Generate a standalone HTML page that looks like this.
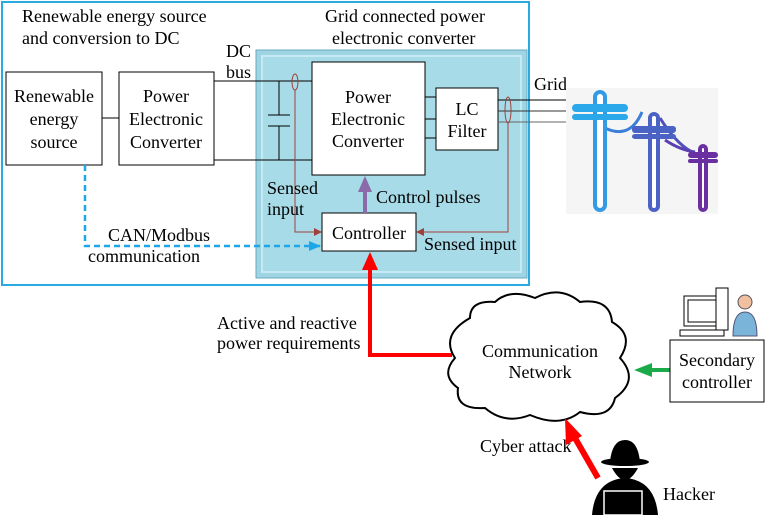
<!DOCTYPE html>
<html><head><style>
body{margin:0;background:#fff;}
svg text{font-family:"Liberation Serif","Times New Roman",serif;font-size:18px;fill:#000;}
</style></head><body>
<svg width="772" height="520" viewBox="0 0 772 520" xmlns="http://www.w3.org/2000/svg">
<defs>
<marker id="bh" markerWidth="8" markerHeight="8" refX="7" refY="4" orient="auto" markerUnits="userSpaceOnUse"><path d="M0,0 L8,4 L0,8 z" fill="#a0403a"/></marker>
<marker id="bl" markerWidth="12" markerHeight="10" refX="11" refY="5" orient="auto" markerUnits="userSpaceOnUse"><path d="M0,0 L12,5 L0,10 z" fill="#1ea7e8"/></marker>
</defs>
<rect x="2" y="2" width="527" height="283" fill="#fff" stroke="#29aae1" stroke-width="2"/>
<text x="22" y="22">Renewable energy source</text>
<text x="22" y="44">and conversion to DC</text>
<text x="325" y="22">Grid connected power</text>
<text x="332" y="44">electronic converter</text>
<rect x="256" y="50" width="271" height="228" fill="#9fd4e3" stroke="#6aaabf" stroke-width="1"/>
<rect x="262" y="56" width="259" height="216" fill="#a8dbe8" stroke="#c5eaf3" stroke-width="2"/>
<rect x="6" y="72" width="96" height="93" fill="#fff" stroke="#000"/>
<text x="54" y="102" text-anchor="middle">Renewable</text>
<text x="54" y="125" text-anchor="middle">energy</text>
<text x="54" y="148" text-anchor="middle">source</text>
<rect x="119" y="72" width="95" height="93" fill="#fff" stroke="#000"/>
<text x="166" y="102" text-anchor="middle">Power</text>
<text x="166" y="125" text-anchor="middle">Electronic</text>
<text x="166" y="148" text-anchor="middle">Converter</text>
<text x="226" y="57">DC</text>
<text x="226" y="78">bus</text>
<line x1="102" y1="118" x2="119" y2="118" stroke="#000"/>
<line x1="214" y1="81" x2="312" y2="81" stroke="#000"/>
<line x1="214" y1="160" x2="312" y2="160" stroke="#000"/>
<line x1="279" y1="81" x2="279" y2="115" stroke="#000"/>
<line x1="279" y1="126" x2="279" y2="160" stroke="#000"/>
<line x1="268" y1="115" x2="290" y2="115" stroke="#000"/>
<line x1="268" y1="126" x2="290" y2="126" stroke="#000"/>
<rect x="312" y="62" width="113" height="113" fill="#fff" stroke="#000"/>
<text x="368" y="103" text-anchor="middle">Power</text>
<text x="368" y="125" text-anchor="middle">Electronic</text>
<text x="368" y="147" text-anchor="middle">Converter</text>
<line x1="425" y1="97" x2="436" y2="97" stroke="#000"/>
<line x1="425" y1="119" x2="436" y2="119" stroke="#000"/>
<line x1="425" y1="138" x2="436" y2="138" stroke="#000"/>
<rect x="436" y="88" width="62" height="62" fill="#fff" stroke="#000"/>
<text x="467" y="115" text-anchor="middle">LC</text>
<text x="467" y="137" text-anchor="middle">Filter</text>
<line x1="498" y1="100" x2="578" y2="100" stroke="#000"/>
<line x1="498" y1="111" x2="578" y2="111" stroke="#333"/>
<line x1="498" y1="122" x2="578" y2="122" stroke="#666"/>
<text x="534" y="90">Grid</text>
<rect x="566" y="88" width="152" height="126" fill="#f5f5f5"/>
<g fill="none" stroke-width="3">
<path d="M642,112 Q630,140 605,128" stroke="#3a7fd8"/><path d="M660,118 Q680,150 700,155" stroke="#5050b8"/><path d="M665,140 Q680,150 695,152" stroke="#5a40b0"/>
</g>
<g fill="#fff" stroke-width="4">
<rect x="595" y="92" width="10" height="118" rx="5" stroke="#339ae6"/>
<rect x="572" y="104" width="56" height="8" rx="4" fill="#2aa8ea" stroke="none"/>
<rect x="572" y="114" width="56" height="6" rx="3" fill="#2aa8ea" stroke="none"/>
<rect x="650" y="114" width="8" height="96" rx="4" stroke="#4a63c4"/>
<rect x="632" y="126" width="44" height="7" rx="3" fill="#4a63c4" stroke="none"/>
<rect x="632" y="134" width="44" height="5" rx="3" fill="#4a63c4" stroke="none"/>
<rect x="700" y="146" width="6" height="64" rx="3" stroke="#6a2fa0"/>
<rect x="688" y="152" width="30" height="6" rx="3" fill="#6a2fa0" stroke="none"/>
<rect x="688" y="159" width="30" height="4" rx="2" fill="#6a2fa0" stroke="none"/>
</g>
<ellipse cx="295" cy="82" rx="3" ry="8" fill="none" stroke="#a0403a"/>
<ellipse cx="508" cy="110" rx="3" ry="13" fill="none" stroke="#a0403a"/>
<polyline points="295,90 295,232 321,232" fill="none" stroke="#a0403a" marker-end="url(#bh)"/>
<polyline points="508,123 508,232 417,232" fill="none" stroke="#a0403a" marker-end="url(#bh)"/>
<rect x="322" y="213" width="94" height="38" fill="#fff" stroke="#000"/>
<text x="369" y="239" text-anchor="middle">Controller</text>
<line x1="365" y1="213" x2="365" y2="190" stroke="#8a6aa8" stroke-width="4"/>
<path d="M358,192 L365,176 L372,192 z" fill="#8a6aa8"/>
<text x="267" y="194">Sensed</text>
<text x="267" y="215">input</text>
<text x="376" y="203">Control pulses</text>
<text x="424" y="250">Sensed input</text>
<polyline points="85,165 85,246 320,246" fill="none" stroke="#1ea7e8" stroke-width="2.5" stroke-dasharray="6,4" marker-end="url(#bl)"/>
<text x="108" y="241">CAN/Modbus</text>
<text x="88" y="262">communication</text>
<path d="M452,355 L370,355 L370,268" fill="none" stroke="#f00" stroke-width="4"/>
<path d="M362,270 L370,252 L378,270 z" fill="#f00"/>
<text x="217" y="329">Active and reactive</text>
<text x="217" y="349">power requirements</text>
<path d="M470,318 Q470,300 495,302 Q510,288 535,298 Q560,285 580,302 Q610,298 612,322 Q635,335 620,358 Q640,380 615,398 Q610,420 580,412 Q560,428 530,415 Q505,425 485,408 Q455,410 458,388 Q440,375 455,358 Q440,335 470,318 z" fill="#fff" stroke="#000" stroke-width="2"/>
<text x="540" y="357" text-anchor="middle">Communication</text>
<text x="540" y="378" text-anchor="middle">Network</text>
<line x1="672" y1="370" x2="650" y2="370" stroke="#1aaa4a" stroke-width="4"/>
<path d="M652,363 L634,370 L652,377 z" fill="#1aaa4a"/>
<rect x="670" y="340" width="94" height="62" fill="#fff" stroke="#000"/>
<text x="717" y="366" text-anchor="middle">Secondary</text>
<text x="717" y="388" text-anchor="middle">controller</text>
<rect x="684" y="296" width="40" height="30" fill="#fff" stroke="#000"/><rect x="688" y="300" width="32" height="22" fill="#fff" stroke="#000"/>
<rect x="716" y="288" width="12" height="42" fill="#fff" stroke="#000"/>
<rect x="680" y="330" width="44" height="6" fill="#fff" stroke="#000"/>
<circle cx="745" cy="302" r="7" fill="#f0c0a0" stroke="#555"/>
<path d="M733,336 Q733,312 745,312 Q757,312 757,336 z" fill="#7ab4d8" stroke="#557"/>
<line x1="598" y1="478" x2="575" y2="438" stroke="#f00" stroke-width="6"/>
<path d="M566,445 L565,418 L582,436 z" fill="#f00"/>
<text x="480" y="452">Cyber attack</text>
<g fill="#000">
<ellipse cx="625" cy="462" rx="24" ry="4"/><path d="M610,462 Q612,440 625,440 Q638,440 640,462 z"/>
<path d="M612,468 Q625,492 638,468 z"/>
<path d="M592,515 Q595,480 625,478 Q655,480 658,515 z"/>
</g>
<rect x="604" y="491" width="38" height="24" fill="#000" stroke="#fff" stroke-width="1.5"/>
<text x="663" y="500">Hacker</text>
</svg>
</body></html>
